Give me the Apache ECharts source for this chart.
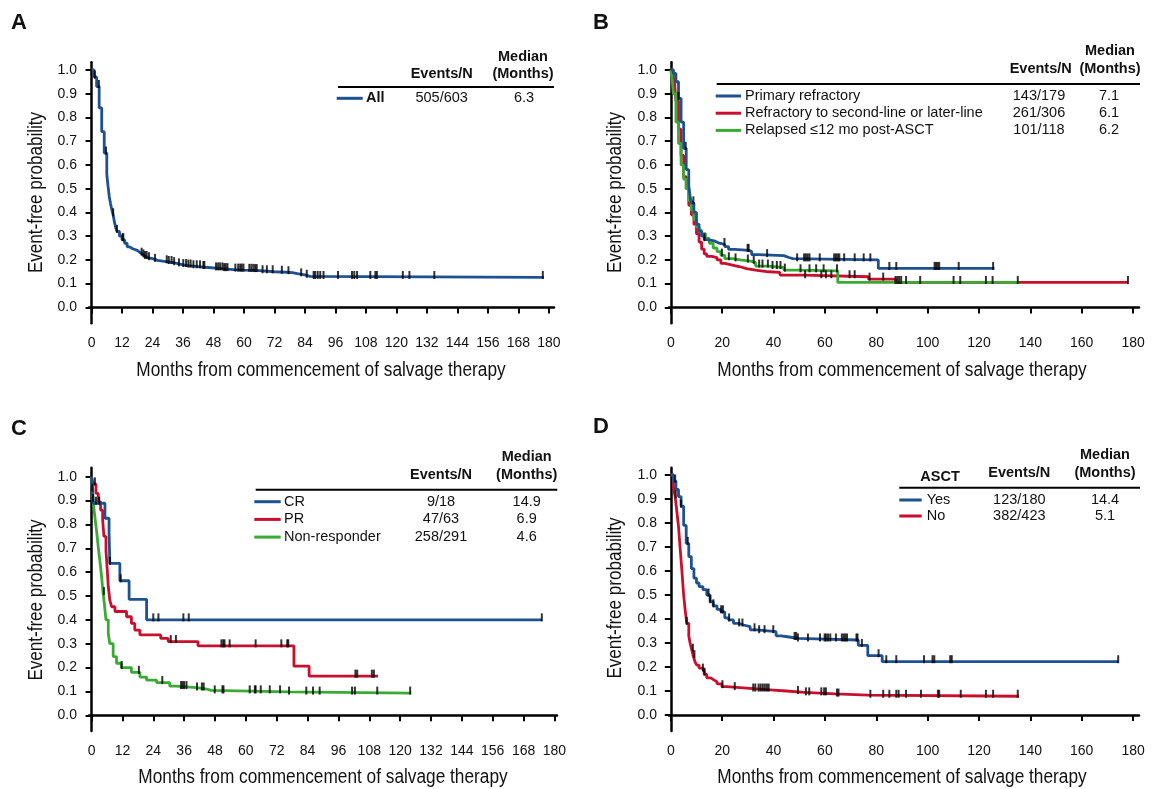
<!DOCTYPE html>
<html><head><meta charset="utf-8">
<script src="https://cdn.jsdelivr.net/npm/echarts@6/dist/echarts.min.js"></script>
<style>html,body{margin:0;padding:0;background:#fff}#c{width:1152px;height:789px}</style>
</head><body><div id="c"></div>
<script>
// ---------- tick labels ----------
const xTicks12 = [0,12,24,36,48,60,72,84,96,108,120,132,144,156,168,180];
const xTicks20 = [0,20,40,60,80,100,120,140,160,180];
const yTicks = [0,0.1,0.2,0.3,0.4,0.5,0.6,0.7,0.8,0.9,1.0];
const xTitle = 'Months from commencement of salvage therapy';
const yTitle = 'Event-free probability';

// ---------- Panel A: all patients ----------
const A_all_t = [0,1,2,3,4,5,6,6.5,7,7.5,8,8.5,9,9.5,10,11,12,13,14,15,16,17,18,19,20,21,22,24,26,28,30,32,34,36,38,40,43,46,49,52,56,60,64,66,72,77,79,81,84,86,178];
const A_all_s = [1.0,0.97,0.93,0.84,0.74,0.65,0.56,0.51,0.465,0.435,0.41,0.39,0.36,0.335,0.32,0.30,0.285,0.27,0.255,0.248,0.244,0.24,0.232,0.224,0.217,0.21,0.205,0.198,0.195,0.192,0.189,0.184,0.179,0.176,0.174,0.171,0.168,0.165,0.162,0.159,0.157,0.156,0.155,0.15,0.148,0.146,0.142,0.137,0.131,0.126,0.126];
const A_all_cens = [1.3,2.9,5.7,8.5,10,12.2,12.5,19.7,20.4,21.0,21.7,22.6,25.0,29.6,30.4,31.5,32.5,34.4,36.1,37.2,38.1,39.0,40.1,41.4,42.7,44.0,44.4,49.0,49.8,50.6,51.5,52.2,52.8,53.5,56.6,57.7,58.5,59.1,59.8,62.1,62.9,63.7,64.4,65.0,67.3,69.0,71.3,74.9,77.5,82.5,84.7,87.4,88.0,89.0,90.0,91.3,97.0,102.5,103.4,104.5,109.7,111.7,112.3,122.5,125.1,134.9,177.6];

// ---------- Panel B: refractory status ----------
const B_prim_t = [0,1,2,3,4,5,6,7,7.5,8,9,10,11,12,13,14,17,18.5,21,22.5,25,30.5,31.5,34,44,46,47.5,80.8,126];
const B_prim_s = [1.0,0.985,0.95,0.88,0.78,0.67,0.58,0.51,0.47,0.44,0.40,0.35,0.32,0.30,0.285,0.28,0.272,0.265,0.256,0.244,0.24,0.235,0.222,0.218,0.21,0.205,0.2,0.164,0.164];
const B_prim_cens = [3,5.8,8.8,13.1,20.9,29.9,30.3,37.5,49.2,51.9,52.6,53.3,54,58,63.6,64.3,65,65.6,67.5,71.6,75.1,77.7,85.1,87.8,102.7,103.3,103.9,104.5,112.1,125.5];
const B_ref_t = [0,1,1.5,2,3,4,5,6,7,8,9,10,11,12,13,14,16,18,19.5,21,24,27,29.5,33,38,42.5,52,77,87.5,178];
const B_ref_s = [1.0,0.97,0.94,0.87,0.75,0.64,0.55,0.5,0.43,0.39,0.35,0.31,0.275,0.245,0.225,0.215,0.21,0.2,0.185,0.178,0.171,0.163,0.157,0.15,0.147,0.136,0.129,0.119,0.105,0.105];
const B_ref_cens = [52.3,58.6,60.4,62.5,69.6,71.6,77.4,82.7,87.5,88.2,88.9,89.7,91.6,178];
const B_rel_t = [0,0.5,1,2,3,4,5,6,7,8,9,10,11,12,13.5,15,16.5,18,19.5,21,24,27,31,33,38,44,50,65,135.5];
const B_rel_s = [1.0,0.96,0.9,0.78,0.69,0.6,0.54,0.5,0.45,0.41,0.37,0.34,0.325,0.31,0.29,0.27,0.25,0.235,0.22,0.205,0.2,0.195,0.19,0.174,0.168,0.157,0.154,0.105,0.105];
const B_rel_cens = [19.9,22.6,25.2,30,32.3,34.4,35.7,37.8,39.6,41.3,42.7,44.4,50.5,54,56.6,59.5,64.7,97.1,110.1,112.7,122.7,125.3,135.1];

// ---------- Panel C: response ----------
const C_cr_t = [0,0.3,0.6,5.2,6.8,7.1,11.0,14.6,21.4,175.2];
const C_cr_s = [1.0,0.944,0.889,0.826,0.764,0.637,0.564,0.486,0.40,0.40];
const C_cr_cens = [0.3,1.7,3.0,7.1,11.3,24,26,35.7,37.8,175.1];
const C_pr_t = [0,0.6,1.7,2.6,3.5,4.3,4.8,5.6,6.1,6.5,7.1,7.8,9.1,13.6,15.5,16.8,18.8,26.9,29.8,41.4,78.7,84.6,111.4];
const C_pr_s = [1.0,0.97,0.93,0.895,0.86,0.82,0.75,0.69,0.61,0.54,0.483,0.455,0.435,0.413,0.385,0.357,0.337,0.322,0.309,0.291,0.206,0.164,0.164];
const C_pr_cens = [1.3,30.8,32.8,50.5,51.2,51.7,53.7,63.8,73.8,76.1,76.5,102.6,103.3,109,109.8];
const C_nr_t = [0,0.3,0.6,1.3,1.9,2.6,3.2,3.9,4.5,5.0,5.6,6.5,7.1,8.4,9.7,11.6,15.5,18.8,21.4,25.3,30.4,33,40.8,44.7,46.5,76.7,124.3];
const C_nr_s = [1.0,0.95,0.9,0.83,0.776,0.706,0.65,0.58,0.51,0.465,0.4,0.343,0.3,0.246,0.218,0.2,0.18,0.16,0.147,0.137,0.122,0.116,0.11,0.104,0.098,0.093,0.093];
const C_nr_cens = [0.6,4.8,11.7,18.4,27.5,34.8,35.4,36,36.9,41,42.9,43.6,47.9,50.9,51.3,61.5,63.5,63.8,65.8,69.3,73.3,76.8,83.5,86.1,88.7,101.3,102.4,111.1,123.9];

// ---------- Panel D: ASCT ----------
const D_yes_t = [0,1,2,3,4,5,6,7,8,9,10,11,12.5,14,15.3,16.5,18,19.5,21,22.5,24.4,26.5,28.3,30.9,33.5,41,43,46,49.5,73,76.7,82.3,174.3];
const D_yes_s = [1.0,0.975,0.94,0.91,0.87,0.79,0.715,0.66,0.61,0.57,0.55,0.535,0.522,0.5,0.472,0.455,0.44,0.43,0.405,0.396,0.382,0.375,0.368,0.355,0.347,0.33,0.325,0.319,0.3125,0.29,0.247,0.222,0.222];
const D_yes_cens = [1.7,4,6.6,14.7,15.3,16.6,19.6,20.3,22.7,26.6,27.9,32.6,34.4,36.5,39.9,48.2,48.8,49.5,53.4,58.1,59.9,60.4,61.2,62.1,64.3,66.6,67.3,67.9,68.6,72.3,72.7,74.4,80.9,83.9,87.8,98.6,101.9,102.6,108.8,109.4,174.2];
const D_no_t = [0,1,1.7,2.3,3,3.6,4.3,5,5.6,6.2,7,7.5,8.2,8.8,9.5,10.1,11,12.1,13,14,15.5,16.6,18,19.9,21.8,32,40,45,52,64,77,135.5];
const D_no_s = [1.0,0.95,0.91,0.854,0.785,0.7,0.604,0.5,0.437,0.382,0.33,0.3,0.27,0.243,0.22,0.208,0.195,0.187,0.17,0.155,0.147,0.139,0.13,0.118,0.11,0.104,0.1,0.094,0.088,0.083,0.078,0.078];
const D_no_cens = [1.9,6.2,8.6,9.2,12.5,13.1,20.1,24.9,32.1,32.9,34.2,35,35.8,36.6,37.4,38.1,49.5,52.6,53.9,58.6,59.7,60.4,64.7,65.3,77.7,82.7,85.1,87.8,88.7,91.6,97.4,104,104.5,112.9,122.7,125.5,135.1];

// ---------- legend tables ----------
const A_names = ['All'];          const A_events = ['505/603'];              const A_medians = ['6.3'];
const B_names = ['Primary refractory','Refractory to second-line or later-line','Relapsed \u226412 mo post-ASCT'];
const B_events = ['143/179','261/306','101/118']; const B_medians = ['7.1','6.1','6.2'];
const C_names = ['CR','PR','Non-responder']; const C_events = ['9/18','47/63','258/291']; const C_medians = ['14.9','6.9','4.6'];
const D_names = ['Yes','No']; const D_events = ['123/180','382/423']; const D_medians = ['14.4','5.1'];

const BLUE = '#1d5190', RED = '#c8102e', GREEN = '#3aaa35';
const SANS = "'Liberation Sans', Arial, Helvetica, sans-serif";

function stepAt(ts, ss, t) { let v = ss[0]; for (let i = 0; i < ts.length; i++) { if (ts[i] <= t) v = ss[i]; else break; } return v; }

const grids = [
  {left: 89, top: 62.3, width: 465, height: 261},
  {left: 669, top: 62.3, width: 470, height: 261},
  {left: 89, top: 467.7, width: 468, height: 263.3},
  {left: 669, top: 467.7, width: 470, height: 263.3}
];
const xRange = [[-1,182,xTicks12],[-0.7,182.3,xTicks20],[-1,181,xTicks12],[-0.7,182.3,xTicks20]];
const yRange = [[-0.067,1.032],[-0.067,1.032],[-0.066,1.038],[-0.0667,1.0304]];

const xAxis = xRange.map((r, i) => ({
  type: 'value', gridIndex: i, min: r[0], max: r[1],
  axisLine: {lineStyle: {color: '#000', width: 2.5}},
  axisTick: {show: true, inside: false, length: 6, lineStyle: {color: '#000', width: 2}, customValues: r[2]},
  axisLabel: {customValues: r[2], fontFamily: SANS, fontSize: 14, color: '#111', margin: 13, formatter: v => String(v)},
  splitLine: {show: false}
}));
const yAxis = yRange.map((r, i) => ({
  type: 'value', gridIndex: i, min: r[0], max: r[1],
  axisLine: {show: true, lineStyle: {color: '#000', width: 2.5}},
  axisTick: {show: true, inside: false, length: 6, lineStyle: {color: '#000', width: 2}, customValues: yTicks},
  axisLabel: {customValues: yTicks, fontFamily: SANS, fontSize: 14, color: '#111', margin: 12, formatter: v => v.toFixed(1)},
  splitLine: {show: false}
}));

const series = [];
function addCurve(gi, ts, ss, cens, color, name) {
  series.push({
    type: 'line', name: name, xAxisIndex: gi, yAxisIndex: gi, step: 'end', showSymbol: false, symbol: 'none',
    lineStyle: {color: color, width: 2.8}, data: ts.map((t, k) => [t, ss[k]]), silent: true, animation: false, z: 2
  });
  series.push({
    type: 'scatter', xAxisIndex: gi, yAxisIndex: gi, symbol: 'rect', symbolSize: [2, 8], symbolOffset: [0, -2.5],
    itemStyle: {color: '#000'}, data: cens.map(t => [t, stepAt(ts, ss, t)]), silent: true, animation: false, z: 3
  });
}
addCurve(0, A_all_t, A_all_s, A_all_cens, BLUE, 'All');
addCurve(1, B_ref_t, B_ref_s, B_ref_cens, RED, B_names[1]);
addCurve(1, B_rel_t, B_rel_s, B_rel_cens, GREEN, B_names[2]);
addCurve(1, B_prim_t, B_prim_s, B_prim_cens, BLUE, B_names[0]);
addCurve(2, C_nr_t, C_nr_s, C_nr_cens, GREEN, C_names[2]);
addCurve(2, C_pr_t, C_pr_s, C_pr_cens, RED, C_names[1]);
addCurve(2, C_cr_t, C_cr_s, C_cr_cens, BLUE, C_names[0]);
addCurve(3, D_no_t, D_no_s, D_no_cens, RED, D_names[1]);
addCurve(3, D_yes_t, D_yes_s, D_yes_cens, BLUE, D_names[0]);

// ---------- graphic: panel letters, axis titles and legend tables ----------
const graphic = [];
function txt(x, y, s, opt) {
  opt = opt || {};
  graphic.push({type: 'text', x: x, y: y, silent: true, rotation: opt.rot || 0, scaleX: opt.sx || 1,
    style: {
      text: s, fill: '#111', font: (opt.bold ? 'bold ' : '') + (opt.size || 14.5) + 'px ' + SANS,
      align: opt.align || 'center', verticalAlign: 'middle', textAlign: opt.align || 'center', textVerticalAlign: 'middle'
    }});
}
function hline(x1, x2, y, color, w) {
  graphic.push({type: 'line', silent: true, shape: {x1: x1, y1: y, x2: x2, y2: y}, style: {stroke: color, lineWidth: w}});
}
txt(11, 23, 'A', {bold: true, size: 22, align: 'left'});
txt(593, 23, 'B', {bold: true, size: 22, align: 'left'});
txt(11, 429, 'C', {bold: true, size: 22, align: 'left'});
txt(593, 427, 'D', {bold: true, size: 22, align: 'left'});

// condensed axis titles
const xTitlePos = [[321, 371], [902, 371], [323, 778], [902, 778]];
const yTitlePos = [[37, 192.5], [616, 192.5], [37, 600], [616, 598]];
xTitlePos.forEach(p => txt(p[0], p[1], xTitle, {size: 19.5, sx: 0.885}));
yTitlePos.forEach(p => txt(p[0], p[1], yTitle, {size: 19.5, sx: 0.875, rot: Math.PI / 2}));

function table(p) {
  txt(p.medX, p.medY, 'Median', {bold: true});
  txt(p.medX, p.hdrY, '(Months)', {bold: true});
  txt(p.evX, p.hdrY, 'Events/N', {bold: true});
  if (p.extra) txt(p.extra.x, p.extra.y, p.extra.t, {bold: true});
  hline(p.ruleX1, p.ruleX2, p.ruleY, '#000', 2);
  p.names.forEach((n, i) => {
    const y = p.rowY + i * p.rowDy;
    hline(p.lineX1, p.lineX2, y, p.colors[i], 3);
    txt(p.textX, y, n, {align: 'left', bold: !!p.boldName});
    txt(p.evX2 || p.evX, y, p.events[i]);
    txt(p.medX2 || p.medX, y, p.medians[i]);
  });
}
table({medX: 523, medY: 57, hdrY: 74, evX: 441.7, ruleX1: 338, ruleX2: 554, ruleY: 87,
  rowY: 98.3, rowDy: 17, lineX1: 336.7, lineX2: 362.7, textX: 366, boldName: true,
  names: A_names, events: A_events, medians: A_medians, colors: [BLUE], medX2: 524});
table({medX: 1110, medY: 51, hdrY: 69.3, evX: 1040.7, ruleX1: 716.7, ruleX2: 1140, ruleY: 84,
  rowY: 96, rowDy: 17.2, lineX1: 715.7, lineX2: 741, textX: 745,
  names: B_names, events: B_events, medians: B_medians, colors: [BLUE, RED, GREEN], evX2: 1039, medX2: 1109});
table({medX: 526.7, medY: 457.3, hdrY: 475, evX: 441, ruleX1: 255.7, ruleX2: 557.3, ruleY: 489.7,
  rowY: 501.7, rowDy: 17.7, lineX1: 254.3, lineX2: 280.7, textX: 284,
  names: C_names, events: C_events, medians: C_medians, colors: [BLUE, RED, GREEN]});
table({medX: 1105, medY: 455, hdrY: 472.5, evX: 1019.3, ruleX1: 899.3, ruleX2: 1140, ruleY: 487.7,
  rowY: 500, rowDy: 16, lineX1: 899.3, lineX2: 921.7, textX: 926.7, extra: {x: 940, y: 477, t: 'ASCT'},
  names: D_names, events: D_events, medians: D_medians, colors: [BLUE, RED]});

const chart = echarts.init(document.getElementById('c'), null, {renderer: 'canvas'});
chart.setOption({
  animation: false, backgroundColor: '#fff',
  grid: grids, xAxis: xAxis, yAxis: yAxis, series: series, graphic: graphic
});
</script>
</body></html>
